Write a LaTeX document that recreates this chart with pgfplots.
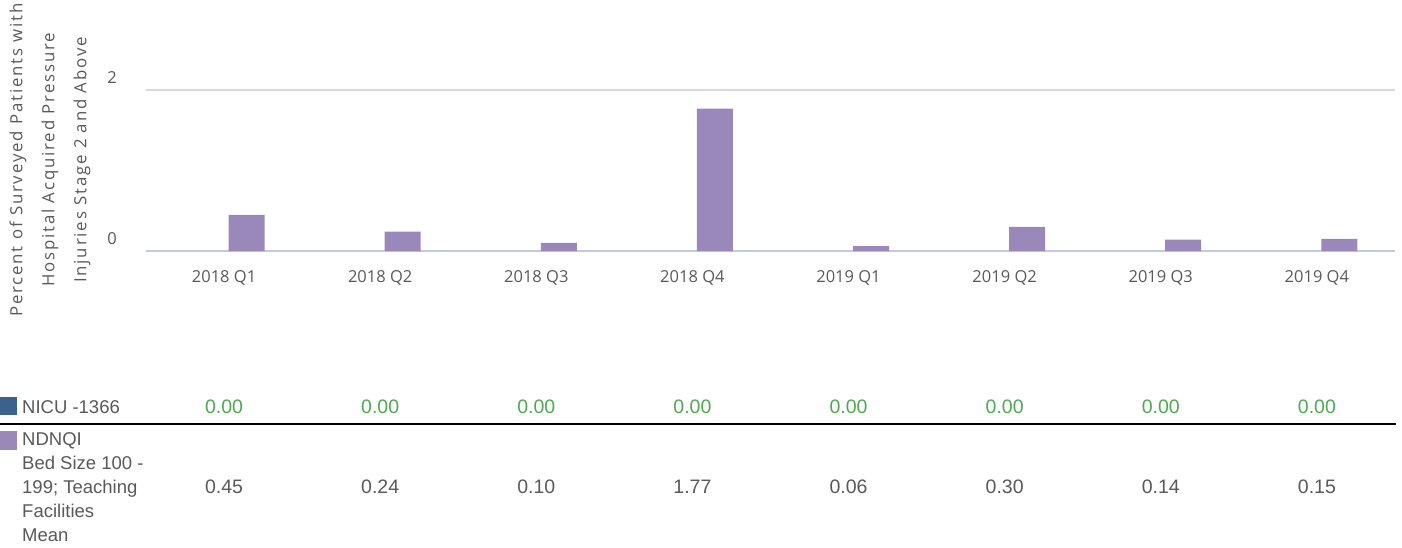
\documentclass[border=0pt]{standalone}
\usepackage{fontspec}
\setmainfont{Liberation Sans}
\newfontfamily\osans{Open Sans}
\newfontfamily\osansls[LetterSpace=11]{Open Sans}
\usepackage{pgfplots}
\pgfplotsset{compat=1.18}
\definecolor{nicu}{RGB}{58,98,138}
\definecolor{ndnqi}{RGB}{155,136,186}
\definecolor{gridcol}{RGB}{217,217,217}
\definecolor{axiscol}{RGB}{191,203,220}
\definecolor{labgray}{RGB}{89,89,89}
\definecolor{valgreen}{RGB}{76,170,80}
\begin{document}
\begin{tikzpicture}
\path[use as bounding box] (0,0) rectangle (1402pt,-548pt);
\begin{axis}[
  at={(146pt,-251pt)}, anchor=south west,
  scale only axis, width=1249pt, height=241.5pt,
  xmin=-0.5, xmax=7.5, ymin=0, ymax=3,
  axis line style={draw=none},
  tick style={draw=none},
  ytick={2},
  extra y ticks={0},
  extra y tick style={grid=major, major grid style={color=axiscol, line width=1.5pt}},
  ymajorgrids,
  major grid style={color=gridcol, line width=1.2pt},
  xtick={0,1,2,3,4,5,6,7},
  xticklabels={2018 Q1,2018 Q2,2018 Q3,2018 Q4,2019 Q1,2019 Q2,2019 Q3,2019 Q4},
  xticklabel style={font=\osans\fontsize{16.5}{18}\selectfont, text=labgray, anchor=base, yshift=-27.3pt},
  yticklabel style={font=\osans\fontsize{16.5}{18}\selectfont, text=labgray, anchor=base east, inner sep=0pt, xshift=-29pt, yshift=6pt},
  /pgf/number format/assume math mode=true,
  ybar, bar width=36pt,
  clip=false,
]
\addplot[fill=none, draw=none, bar shift=-22.5pt] coordinates {(0,0) (1,0) (2,0) (3,0) (4,0) (5,0) (6,0) (7,0)};
\addplot[fill=ndnqi, draw=none, bar shift=22.5pt] coordinates {(0,0.45) (1,0.24) (2,0.10) (3,1.77) (4,0.06) (5,0.30) (6,0.14) (7,0.15)};
\end{axis}
% y label
\node[rotate=90, align=center, text=labgray, font=\osansls\fontsize{16.8}{32}\selectfont] at (50pt,-160pt)
  {Percent of Surveyed Patients with\\Hospital Acquired Pressure\\Injuries Stage 2 and Above};
% data table
\fill[nicu] (0pt,-397pt) rectangle (17pt,-415pt);
\fill[ndnqi] (0pt,-431pt) rectangle (17pt,-450pt);
\draw[black, line width=2pt] (0pt,-423.5pt) -- (1396pt,-423.5pt);
\begin{scope}[every node/.style={inner sep=0pt, text=labgray, font=\fontsize{18.5}{22}\selectfont, anchor=base west}]
\node at (22pt,-413.3pt) {NICU -1366};
\node at (22pt,-445pt) {NDNQI};
\node at (22pt,-469pt) {Bed Size 100 -};
\node at (22pt,-493pt) {199; Teaching};
\node at (22pt,-517pt) {Facilities};
\node at (22pt,-541pt) {Mean};
\end{scope}
\foreach \v [count=\k from 0] in {0.00,0.00,0.00,0.00,0.00,0.00,0.00,0.00} {
  \node[inner sep=0pt, anchor=base, text=valgreen, font=\fontsize{19.5}{22}\selectfont] at ({146pt+156.125pt*(\k+0.5)}, -413.3pt) {\v};
}
\foreach \v [count=\k from 0] in {0.45,0.24,0.10,1.77,0.06,0.30,0.14,0.15} {
  \node[inner sep=0pt, anchor=base, text=labgray, font=\fontsize{19.5}{22}\selectfont] at ({146pt+156.125pt*(\k+0.5)}, -493pt) {\v};
}
\end{tikzpicture}
\end{document}
